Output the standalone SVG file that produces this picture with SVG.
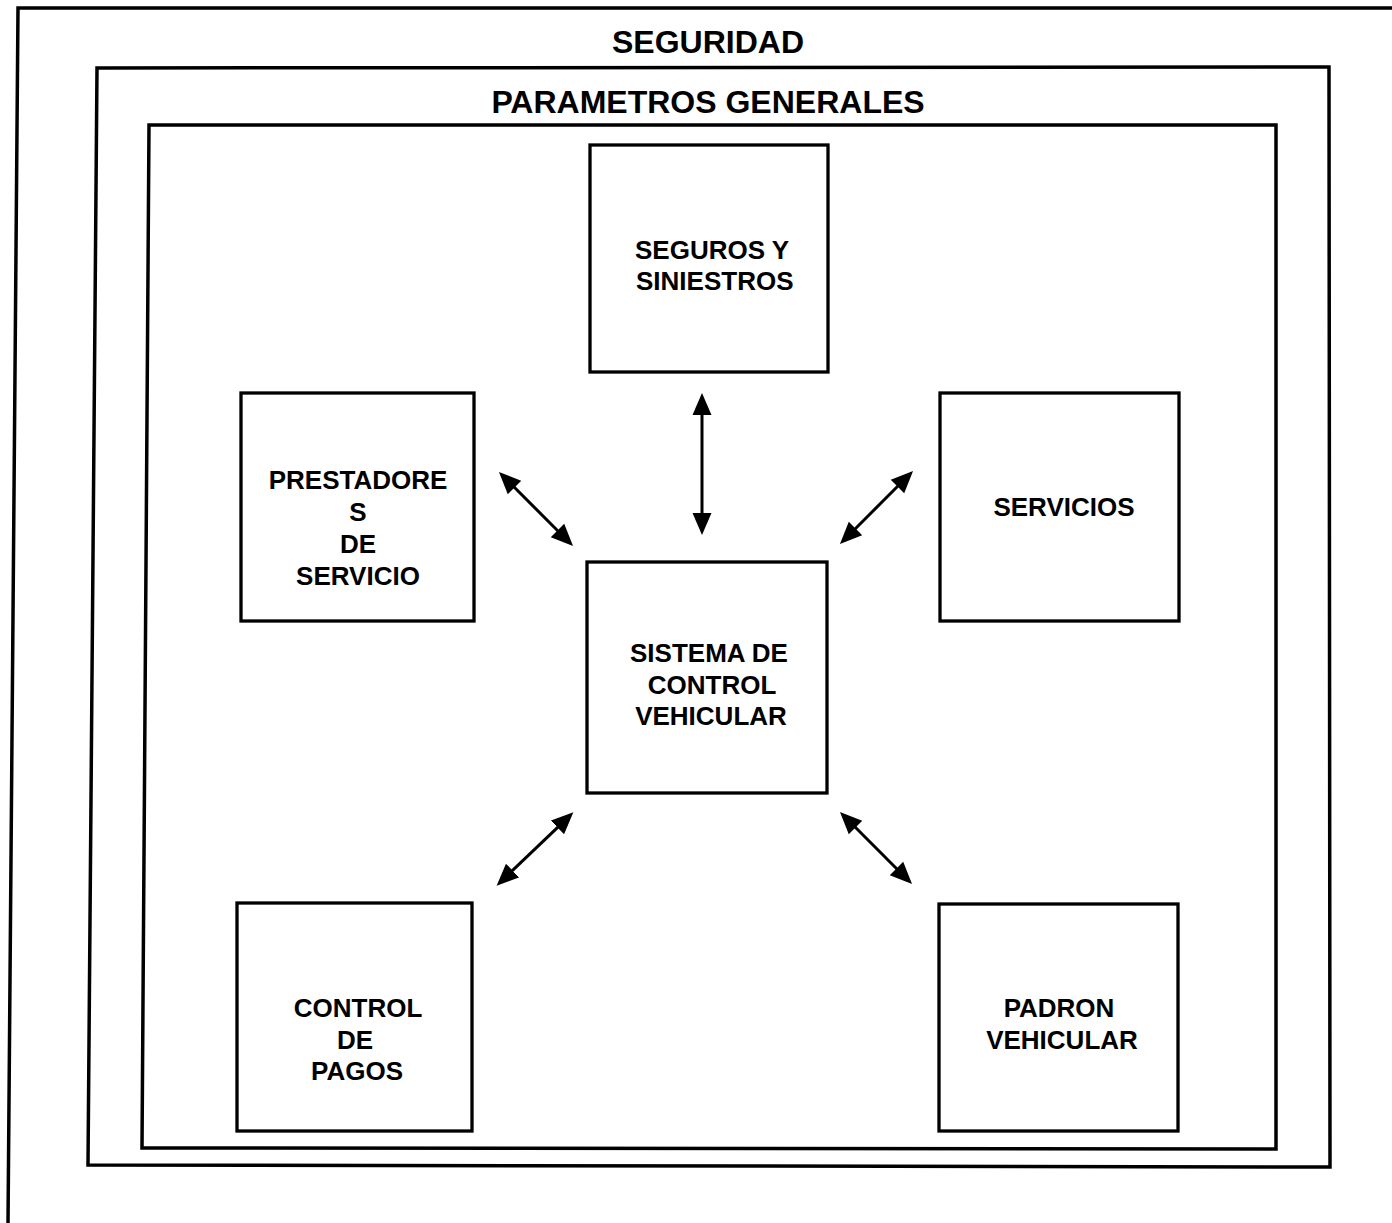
<svg xmlns="http://www.w3.org/2000/svg" width="1392" height="1223" viewBox="0 0 1392 1223">
<style>
.frame{fill:none;stroke:#000;stroke-width:3.5;stroke-linejoin:miter}
.box{fill:#fff;stroke:#000;stroke-width:3.3}
.t{font-family:"Liberation Sans",Arial,sans-serif;font-weight:bold;font-size:26px;fill:#000;text-anchor:middle}
.ts{text-anchor:start}
.title{font-family:"Liberation Sans",Arial,sans-serif;font-weight:bold;font-size:32px;fill:#000;text-anchor:middle}
.conn{stroke:#000;stroke-width:3;fill:none}
</style>
<defs>
<marker id="ah" viewBox="0 -10 22 20" refX="1" refY="0" markerWidth="22" markerHeight="20" markerUnits="userSpaceOnUse" orient="auto-start-reverse">
<path d="M0,-9.5 L22,0 L0,9.5 z" fill="#000"/>
</marker>
</defs>
<rect width="1392" height="1223" fill="#fff"/>
<g id="seguridad">
<polyline class="frame" points="1392,8 18,8 8,1223"/>
<text class="title" x="708" y="53">SEGURIDAD</text>
</g>
<g id="parametros-generales">
<polygon class="frame" points="97,68 1329,67 1330,1167 88,1165"/>
<text class="title" x="708" y="113">PARAMETROS GENERALES</text>
</g>
<g id="inner-frame">
<polygon class="frame" points="149,125 1276,125 1276,1149 142,1148"/>
</g>
<g id="seguros">
<rect class="box" x="590" y="145" width="238" height="227"/>
<text class="t ts" x="635" y="259">SEGUROS Y</text>
<text class="t ts" x="636" y="290">SINIESTROS</text>
</g>
<g id="prestadores">
<rect class="box" x="241" y="393" width="233" height="228"/>
<text class="t" x="358" y="489">PRESTADORE</text>
<text class="t" x="358" y="521">S</text>
<text class="t" x="358" y="553">DE</text>
<text class="t" x="358" y="585">SERVICIO</text>
</g>
<g id="servicios">
<rect class="box" x="940" y="393" width="239" height="228"/>
<text class="t" x="1064" y="516">SERVICIOS</text>
</g>
<g id="sistema">
<rect class="box" x="587" y="562" width="240" height="231"/>
<text class="t" x="709" y="662">SISTEMA DE</text>
<text class="t" x="712" y="694">CONTROL</text>
<text class="t" x="711" y="725">VEHICULAR</text>
</g>
<g id="control-pagos">
<rect class="box" x="237" y="903" width="235" height="228"/>
<text class="t" x="358" y="1017">CONTROL</text>
<text class="t" x="355" y="1049">DE</text>
<text class="t" x="357" y="1080">PAGOS</text>
</g>
<g id="padron">
<rect class="box" x="939" y="904" width="239" height="227"/>
<text class="t" x="1059" y="1017">PADRON</text>
<text class="t" x="1062" y="1049">VEHICULAR</text>
</g>
<g id="connectors">
<line class="conn" x1="702" y1="414" x2="702" y2="514" marker-start="url(#ah)" marker-end="url(#ah)"/>
<line class="conn" x1="513.8" y1="486.8" x2="558.2" y2="531.2" marker-start="url(#ah)" marker-end="url(#ah)"/>
<line class="conn" x1="898.2" y1="485.8" x2="854.8" y2="529.2" marker-start="url(#ah)" marker-end="url(#ah)"/>
<line class="conn" x1="558.2" y1="826.8" x2="511.8" y2="871.2" marker-start="url(#ah)" marker-end="url(#ah)"/>
<line class="conn" x1="854.8" y1="826.8" x2="897.2" y2="869.2" marker-start="url(#ah)" marker-end="url(#ah)"/>
</g>
</svg>
